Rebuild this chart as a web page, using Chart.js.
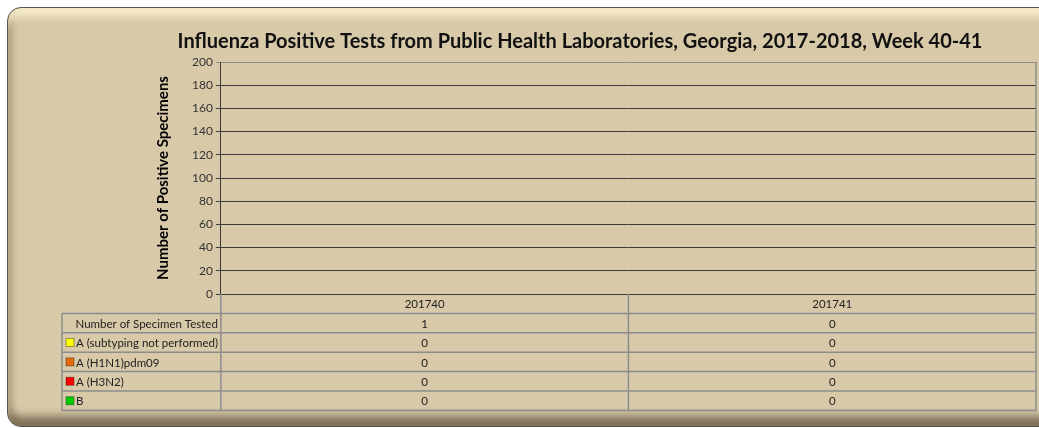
<!DOCTYPE html>
<html>
<head>
<meta charset="utf-8">
<script src="https://cdn.jsdelivr.net/npm/chart.js@4"></script>
<style>
  body { margin:0; background:#fff; }
  .wrap { position:relative; width:1039px; height:428px; overflow:hidden; }
  .frame {
    position:absolute; left:7px; top:7px; width:1045px; height:418px;
    border:1px solid #555; border-radius:14px;
    background:#d8c9a9;
    box-shadow:
      inset 0 10px 8px -2px rgba(255,246,210,0.85),
      inset 6px 0 6px -2px rgba(120,100,70,0.45),
      inset 0 -12px 8px -2px rgba(70,60,40,0.6);
  }
  canvas { position:absolute; left:0; top:0; }
</style>
</head>
<body>
<div class="wrap">
  <div class="frame"></div>
  <canvas id="chart" width="1039" height="428"></canvas>
</div>
<script>
// data
const weeks = ['201740', '201741'];
const specimensTested = [1, 0];
const aNotSubtyped = [0, 0];
const aH1N1 = [0, 0];
const aH3N2 = [0, 0];
const fluB = [0, 0];

const yMax = 200;
const yStep = 20;

const seriesNames = ['A (subtyping not performed)', 'A (H1N1)pdm09', 'A (H3N2)', 'B'];
const seriesColors = ['#ffff00', '#e46c0a', '#ff0000', '#00cc00'];

// draws the data table under the plot (Excel style)
const dataTable = {
  id: 'dataTable',
  afterDraw(chart) {
    const c = chart.ctx;
    const area = chart.chartArea;
    const xs = chart.scales.x;
    const rowH = 19.4;
    const tableLeft = 62;
    const n = weeks.length;
    const colW = (area.right - area.left) / n;
    const top = area.bottom;
    const rows = 6;
    const bottom = top + rowH * rows;

    c.save();
    c.strokeStyle = '#8c8c8c';
    c.lineWidth = 1.5;
    // horizontal lines
    for (let r = 1; r <= rows; r++) {
      const y = top + r * rowH;
      c.beginPath(); c.moveTo(tableLeft, y); c.lineTo(area.right, y); c.stroke();
    }
    // vertical lines
    c.beginPath(); c.moveTo(tableLeft, top + rowH); c.lineTo(tableLeft, bottom); c.stroke();
    for (let i = 0; i <= n; i++) {
      const x = area.left + i * colW;
      c.beginPath(); c.moveTo(x, top); c.lineTo(x, bottom); c.stroke();
    }
    // right border of plot
    c.beginPath(); c.moveTo(area.right, area.top); c.lineTo(area.right, top); c.stroke();

    c.font = '11.5px Lato';
    c.fillStyle = '#222';
    c.textBaseline = 'middle';
    c.textAlign = 'center';
    const valueRows = [specimensTested].concat(chart.data.datasets.map(d => d.data));
    weeks.forEach((w, i) => {
      const cx = xs.getPixelForValue(i);
      c.fillText(w, cx, top + rowH / 2 + 1);
      valueRows.forEach((vals, r) => {
        c.fillText(String(vals[i]), cx, top + rowH * (r + 1.5) + 1);
      });
    });

    c.textAlign = 'right';
    c.fillText('Number of Specimen Tested', area.left - 3, top + rowH * 1.5 + 1);
    c.textAlign = 'left';
    chart.data.datasets.forEach((d, r) => {
      const y = top + rowH * (r + 2.5);
      c.fillStyle = d.backgroundColor;
      c.fillRect(tableLeft + 4, y - 4, 8, 8);
      c.strokeStyle = 'rgba(0,0,0,0.35)';
      c.lineWidth = 1;
      c.strokeRect(tableLeft + 4, y - 4, 8, 8);
      c.fillStyle = '#222';
      c.fillText(d.label, tableLeft + 14, y + 1);
    });
    c.restore();
  }
};

new Chart(document.getElementById('chart'), {
  type: 'bar',
  data: {
    labels: weeks,
    datasets: [
      { label: seriesNames[0], data: aNotSubtyped, backgroundColor: seriesColors[0] },
      { label: seriesNames[1], data: aH1N1, backgroundColor: seriesColors[1] },
      { label: seriesNames[2], data: aH3N2, backgroundColor: seriesColors[2] },
      { label: seriesNames[3], data: fluB, backgroundColor: seriesColors[3] }
    ]
  },
  options: {
    responsive: false,
    animation: false,
    layout: { padding: { left: 124, right: 3, top: 0, bottom: 134 } },
    plugins: {
      legend: { display: false },
      tooltip: { enabled: false },
      title: {
        display: true,
        text: 'Influenza Positive Tests from Public Health Laboratories, Georgia, 2017-2018, Week 40-41',
        font: { family: 'Lato', size: 20, weight: 'bold' },
        color: '#111',
        padding: { top: 30, bottom: 8 }
      }
    },
    scales: {
      x: { display: false, stacked: true },
      y: {
        stacked: true,
        min: 0, max: yMax,
        ticks: { stepSize: yStep, color: '#333', font: { family: 'Lato', size: 12 }, padding: 3 },
        grid: {
          color: ctx => ctx.tick && ctx.tick.value === yMax ? '#8c8c8c' : '#3a3a3a',
          tickLength: 5
        },
        border: { color: '#3a3a3a' },
        title: {
          display: true,
          text: 'Number of Positive Specimens',
          font: { family: 'Lato', size: 15, weight: 'bold' },
          color: '#000',
          padding: { top: 30, bottom: 17 }
        }
      }
    }
  },
  plugins: [dataTable]
});
</script>
</body>
</html>
